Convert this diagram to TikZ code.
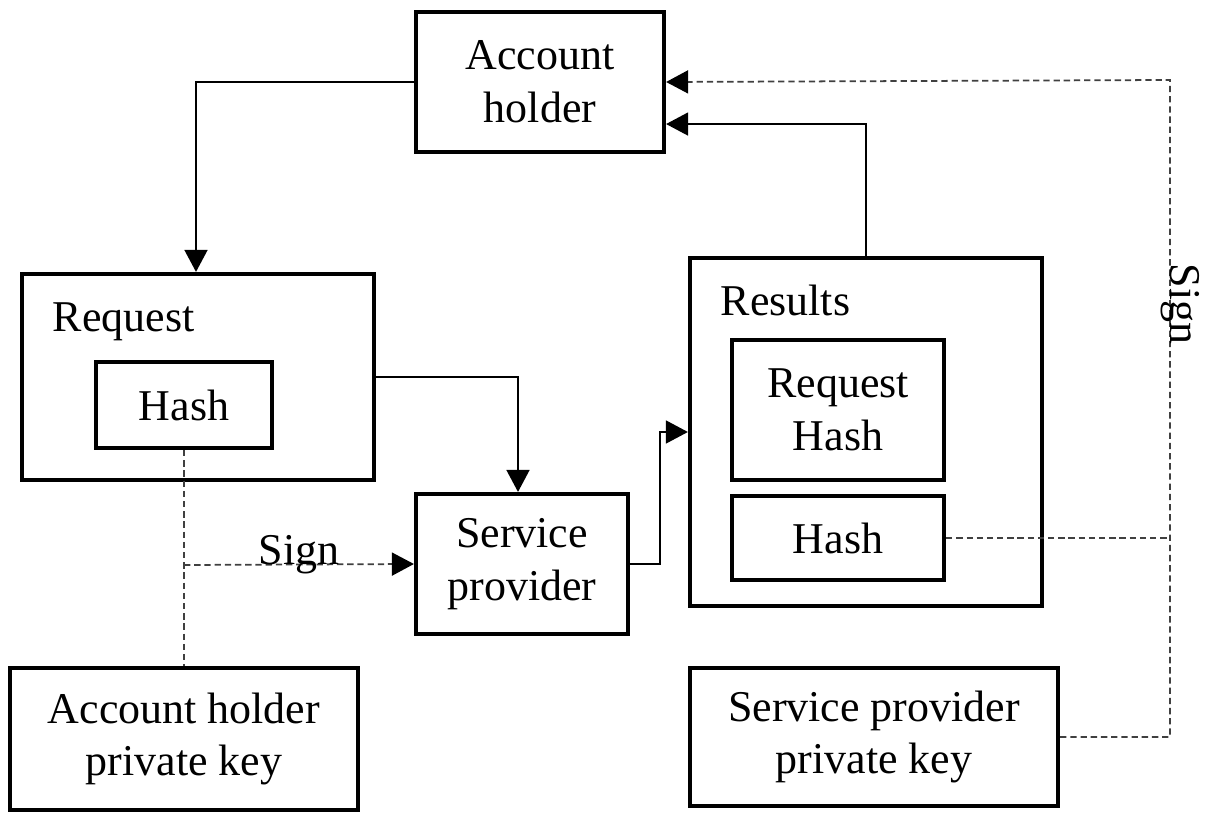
\documentclass[tikz,border=0pt]{standalone}
\usepackage{fontspec}
\setmainfont{Liberation Serif}
\usetikzlibrary{arrows.meta}
\tikzset{
	box/.style={draw, line width=1.15pt, align=center, inner sep=0pt},
	link/.style={line width=0.45pt, -{Triangle[length=0.22cm,width=0.23cm]}},
	signlink/.style={line width=0.5pt, black!75, dash pattern=on 1.8pt off 1.1pt},
	signtip/.style={-{Triangle[length=0.22cm,width=0.23cm,color=black]}}
}
\begin{document}
\begin{tikzpicture}[x=0.01cm, y=-0.01cm, font=\fontsize{12.5}{15}\selectfont]
	\useasboundingbox (0,0) rectangle (1219,822);
	
	\node[box, minimum width=2.48cm, minimum height=1.40cm] (holder) at (540,82) {Account\\holder};
	\node[box, minimum width=3.52cm, minimum height=2.06cm] (request) at (198,377) {};
	\node[anchor=west, inner sep=0pt] (requestlbl) at (52,322) {Request};
	\node[box, minimum width=1.76cm, minimum height=0.86cm] (hash) at (184,405) {Hash};
	\node[box, minimum width=2.12cm, minimum height=1.40cm] (service) at (522,564) {Service\\provider};
	\node[box, minimum width=3.52cm, minimum height=3.48cm] (results) at (866,432) {};
	\node[anchor=west, inner sep=0pt] (resultslbl) at (720,300) {Results};
	\node[box, minimum width=2.12cm, minimum height=1.40cm] (reqhash) at (838,410) {Request\\Hash};
	\node[box, minimum width=2.12cm, minimum height=0.84cm] (sphash) at (838,538) {Hash};
	\node[box, minimum width=3.48cm, minimum height=1.42cm] (ahkey) at (184,739) {Account holder\\private key};
	\node[box, minimum width=3.68cm, minimum height=1.38cm] (spkey) at (874,737) {Service provider\\private key};
	
	% solid flow
	\draw[link] (holder.west) -| ([xshift=-0.02cm]request.north);
	\draw[link] (request.east) -| ([xshift=-0.04cm]service.north);
	\draw[link] (service.east) -- ++(30,0) |- (results.west);
	\draw[link] (results.north) |- ([yshift=0.3cm]holder.south east);
	
	% signing, account holder side
	\coordinate (ahsplit) at (184,565);
	\draw[signlink] (hash.south) -- (ahkey.north);
	\draw[signlink, signtip] (ahsplit) -- (service.west)
		node[pos=0.5, anchor=base, text=black] (ahsign) {Sign};
	
	% signing, service provider side
	\coordinate (spcorner) at (1170,80);
	\draw[signlink] (sphash.east) -- (sphash.east -| spcorner);
	\draw[signlink, signtip] (spkey.east) -| (spcorner) -- (holder.east);
	\node[rotate=-90, inner sep=0pt] (spsign) at (1180,304) {Sign};
\end{tikzpicture}
\end{document}
